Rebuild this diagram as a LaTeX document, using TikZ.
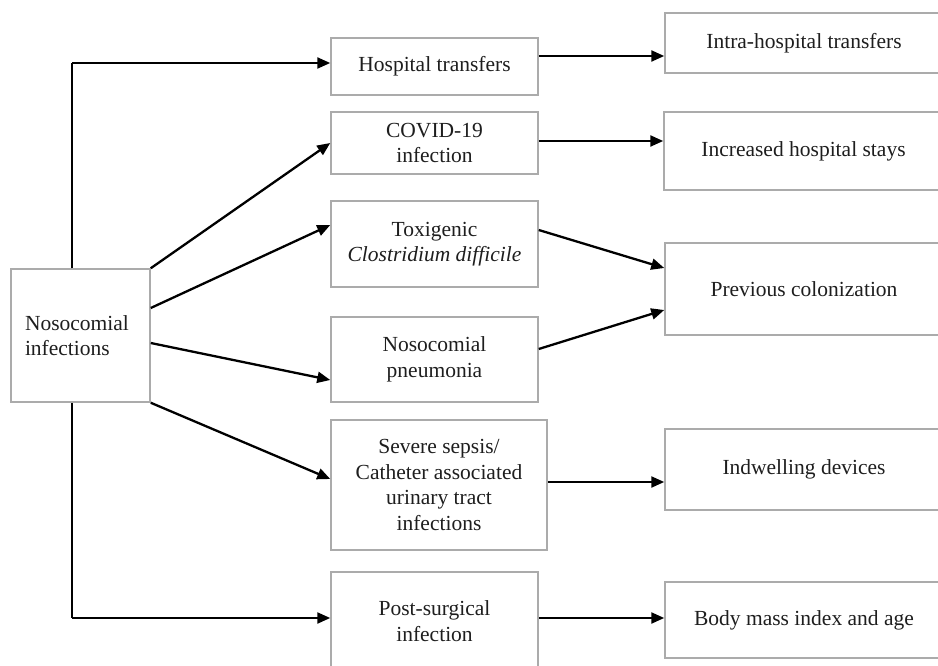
\documentclass[tikz,border=0pt]{standalone}
\usepackage{fontspec}
\setmainfont{Liberation Serif}
\usetikzlibrary{arrows.meta}
\definecolor{boxgray}{HTML}{ABABAB}
\definecolor{inkgray}{HTML}{1E1E1E}
\begin{document}
\begin{tikzpicture}[
    x=1pt, y=-1pt,
    every node/.style={text=inkgray, font=\fontsize{21.5}{25.5}\selectfont},
    box/.style={draw=boxgray, line width=1.5pt, inner sep=0pt, align=center},
    link/.style={line width=2.3pt, -{Triangle[length=13pt,width=11pt]}},
    stem/.style={line width=1.4pt}
    ]
    \useasboundingbox[clip] (0,0) rectangle (938,666);
    % source box
    \node [box, minimum width=139pt, minimum height=133pt, text width=111pt, inner xsep=14pt, align=left] (noso) at (80.5,335.5) {Nosocomial\\infections};
    % middle column
    \node [box, minimum width=207pt, minimum height=57pt] (hosp) at (434.5,66.5) {Hospital transfers};
    \node [box, minimum width=207pt, minimum height=62pt] (covid) at (434.5,143) {COVID-19\\infection};
    \node [box, minimum width=207pt, minimum height=86pt] (toxi) at (434.5,244) {Toxigenic\\\textit{Clostridium difficile}};
    \node [box, minimum width=207pt, minimum height=85pt] (pneu) at (434.5,359.5) {Nosocomial\\pneumonia};
    \node [box, minimum width=216pt, minimum height=130pt] (seps) at (439,485) {Severe sepsis/\\Catheter associated\\urinary tract\\infections};
    \node [box, minimum width=207pt, minimum height=98pt] (post) at (434.5,621) {Post-surgical\\infection};
    % right column
    \node [box, minimum width=278pt, minimum height=60pt] (intra) at (804,43) {Intra-hospital transfers};
    \node [box, minimum width=279pt, minimum height=78pt] (incr) at (803.5,151) {Increased hospital stays};
    \node [box, minimum width=278pt, minimum height=92pt] (prev) at (804,289) {Previous colonization};
    \node [box, minimum width=278pt, minimum height=81pt] (indw) at (804,469.5) {Indwelling devices};
    \node [box, minimum width=278pt, minimum height=76pt] (bmi) at (804,620) {Body mass index and age};
    % elbow corners
    \coordinate (up) at (72,63);
    \coordinate (down) at (72,618);
    \draw [stem] (noso.north -| up) -- (up);
    \draw [stem] (noso.south -| down) -- (down);
    % arrows out of the source box
    \draw [link] (up) -- ([yshift=3.5pt]hosp.west);
    \draw [link] (noso.north east) -- (covid.west);
    \draw [link] ([yshift=27.5pt]noso.east) -- ([yshift=19pt]toxi.west);
    \draw [link] ([yshift=-7.5pt]noso.east) -- ([yshift=-20.5pt]pneu.west);
    \draw [link] (noso.south east) -- ([yshift=6pt]seps.west);
    \draw [link] (down) -- ([yshift=3pt]post.west);
    % arrows to the right column
    \draw [link] ([yshift=10.5pt]hosp.east) -- ([yshift=-13pt]intra.west);
    \draw [link] ([yshift=2pt]covid.east) -- ([yshift=10pt]incr.west);
    \draw [link] ([yshift=14pt]toxi.east) -- ([yshift=21pt]prev.west);
    \draw [link] ([yshift=10.5pt]pneu.east) -- ([yshift=-21pt]prev.west);
    \draw [link] ([yshift=3pt]seps.east) -- ([yshift=-12.5pt]indw.west);
    \draw [link] ([yshift=3pt]post.east) -- ([yshift=2pt]bmi.west);
\end{tikzpicture}
\end{document}
